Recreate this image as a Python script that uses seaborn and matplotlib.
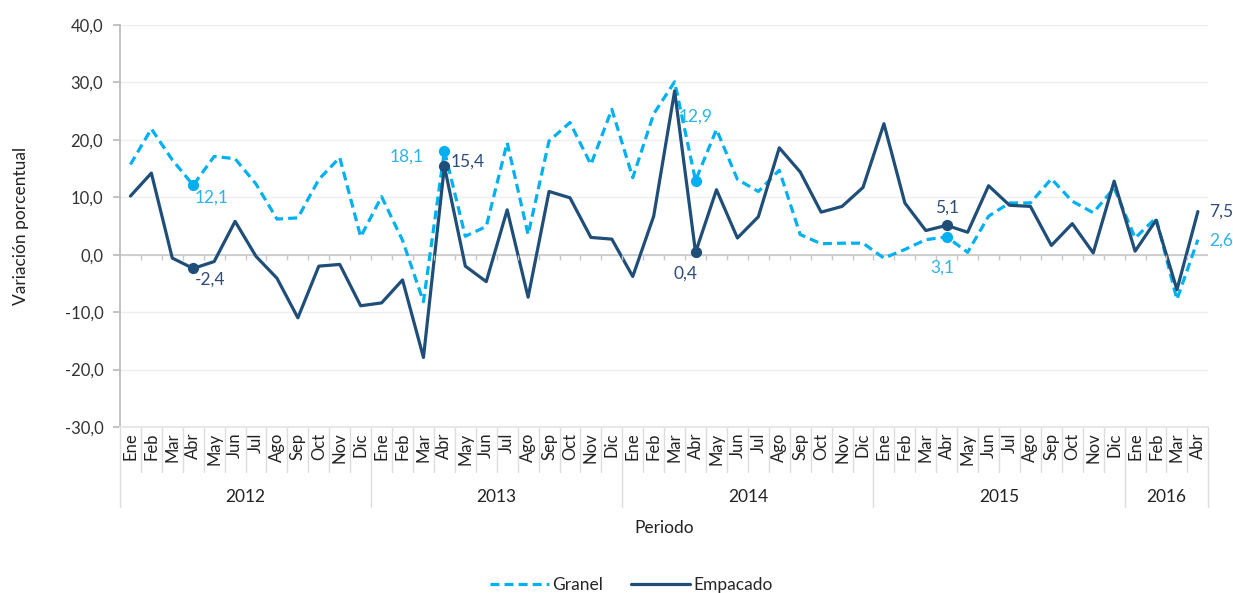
import pandas as pd
import matplotlib
matplotlib.use("Agg")
import matplotlib.pyplot as plt
import seaborn as sns
from matplotlib.ticker import FuncFormatter

# datos
meses = ["Ene", "Feb", "Mar", "Abr", "May", "Jun", "Jul", "Ago", "Sep", "Oct", "Nov", "Dic"]
anios = ["2012", "2013", "2014", "2015", "2016"]
meses_por_anio = [12, 12, 12, 12, 4]

granel = [15.7, 21.9, 16.5, 12.1, 17.1, 16.7, 12.3, 6.2, 6.4, 13.1, 16.9, 3.1,
          10.1, 2.5, -8.2, 18.1, 3.2, 4.9, 19.5, 3.5, 19.8, 23.0, 15.7, 25.3,
          13.4, 24.5, 30.1, 12.9, 21.8, 13.1, 11.0, 14.7, 3.5, 1.9, 2.0, 2.0,
          -0.6, 0.9, 2.6, 3.1, 0.4, 6.7, 9.0, 9.0, 13.2, 9.3, 7.3, 11.6,
          2.9, 6.4, -7.8, 2.6]
empacado = [10.2, 14.2, -0.6, -2.4, -1.2, 5.8, -0.3, -4.1, -11.0, -2.0, -1.7, -8.9,
            -8.4, -4.4, -17.9, 15.4, -2.0, -4.7, 7.8, -7.4, 11.0, 9.9, 3.0, 2.7,
            -3.8, 6.7, 28.5, 0.4, 11.3, 2.9, 6.6, 18.6, 14.4, 7.4, 8.4, 11.7,
            22.8, 9.0, 4.2, 5.1, 3.9, 12.0, 8.6, 8.4, 1.6, 5.4, 0.3, 12.8,
            0.6, 6.0, -6.1, 7.5]

c_granel = "#00B0F0"
c_empacado = "#1F4E79"

etiquetas_mes = []
for n in meses_por_anio:
    etiquetas_mes += meses[:n]
n_total = len(etiquetas_mes)

df = pd.DataFrame({
    "idx": list(range(n_total)) * 2,
    "valor": granel + empacado,
    "serie": ["Granel"] * n_total + ["Empacado"] * n_total,
})

sns.set_theme(style="white")
plt.rcParams["font.family"] = ["Lato", "DejaVu Sans"]

fig = plt.figure(figsize=(12.33, 5.93), dpi=100)
ax = fig.add_axes([0.0973, 0.28, 0.8827, 0.678])

sns.lineplot(data=df, x="idx", y="valor", hue="serie", style="serie",
             palette={"Granel": c_granel, "Empacado": c_empacado},
             dashes={"Granel": (2.8, 1.6), "Empacado": ""},
             linewidth=2.3, ax=ax)
for ln in ax.lines:
    ln.set_dash_capstyle("butt")
    ln.set_solid_joinstyle("round")

# marcadores en abril (menos el ultimo)
todos_abr = [i for i, m in enumerate(etiquetas_mes) if m == "Abr"]
abr = todos_abr[:-1]
ax.scatter(abr, [granel[i] for i in abr], s=50, color=c_granel, zorder=5)
ax.scatter(abr, [empacado[i] for i in abr], s=50, color=c_empacado, zorder=6)

def fmt(v):
    return f"{v:.1f}".replace(".", ",")

# etiquetas de datos (offset en puntos)
offs_g = [(13, -9), (-27, -4), (0, 46), (-3.5, -22), (17, -1)]
offs_e = [(12, -8), (17, 3), (-7, -15), (0, 13), (17, 0)]
for k, i in enumerate(todos_abr):
    dx, dy = offs_g[k]
    ax.annotate(fmt(granel[i]), (i, granel[i]), xytext=(dx, dy), textcoords="offset points",
                ha="center", va="center", fontsize=12.5, color="#2EB3E8")
    dx, dy = offs_e[k]
    ax.annotate(fmt(empacado[i]), (i, empacado[i]), xytext=(dx, dy), textcoords="offset points",
                ha="center", va="center", fontsize=12.5, color="#2F4B7C")

ax.set_ylim(-30, 40)
ax.set_xlim(-0.5, n_total - 0.5)
ax.set_yticks(range(-30, 41, 10))
ax.yaxis.set_major_formatter(FuncFormatter(lambda v, p: fmt(v)))
ax.grid(axis="y", color="#EEEEEE", linewidth=1)
ax.axhline(0, color="#C8C8C8", linewidth=1.2, zorder=1)
ax.vlines([i + 0.5 for i in range(n_total - 1)], -0.85, 0, color="#C8C8C8", linewidth=1)

ax.set_xticks(range(n_total))
ax.set_xticklabels(etiquetas_mes, rotation=90, fontsize=12, color="#222222")
ax.tick_params(axis="x", length=0, pad=4)
ax.tick_params(axis="y", length=5, color="#BBBBBB", direction="out", left=True,
               labelsize=12, labelcolor="#333333", pad=7)

for s in ["top", "right"]:
    ax.spines[s].set_visible(False)
ax.spines["left"].set_color("#BBBBBB")
ax.spines["bottom"].set_color("#E5E5E5")

# separadores de meses y anios
tr = ax.get_xaxis_transform()
inicio = 0
limites = [-0.5]
for n in meses_por_anio:
    inicio += n
    limites.append(inicio - 0.5)
for i in range(n_total + 1):
    x = i - 0.5
    largo = -0.2 if x in limites else -0.112
    ax.plot([x, x], [0, largo], transform=tr, color="#DDDDDD", linewidth=1, clip_on=False)
inicio = 0
for anio, n in zip(anios, meses_por_anio):
    ax.text(inicio + (n - 1) / 2, -0.174, anio, transform=tr, ha="center", va="center",
            fontsize=12.5, color="#222222")
    inicio += n

ax.set_xlabel("Periodo", fontsize=12.5, color="#222222")
ax.xaxis.set_label_coords(0.5, -0.251)
ax.xaxis.label.set_va("center")
ax.set_ylabel("Variación porcentual", fontsize=12.5, color="#222222")
ax.yaxis.set_label_coords(-0.091, 0.5)
ax.yaxis.label.set_va("center")

sns.move_legend(ax, "center", bbox_to_anchor=(0.47, -0.393), ncol=2, frameon=False,
                title=None, fontsize=12.5, handlelength=3.4, columnspacing=1.6,
                handletextpad=0.2)

fig.savefig("out.png", dpi=100)
